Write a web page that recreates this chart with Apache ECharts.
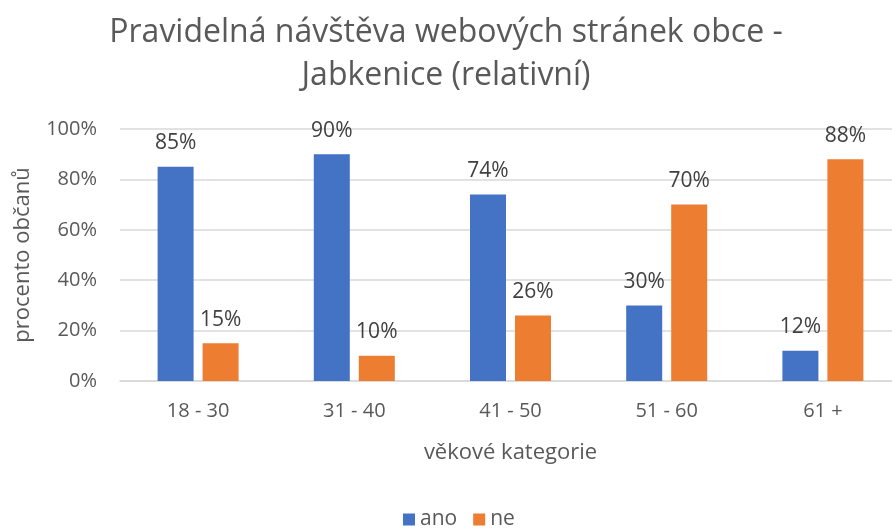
<!DOCTYPE html>
<html>
<head>
<meta charset="utf-8">
<script src="https://cdn.jsdelivr.net/npm/echarts@6/dist/echarts.min.js"></script>
<style>
  html, body { margin: 0; padding: 0; background: #fff; }
  #chart { width: 892px; height: 530px; }
</style>
</head>
<body>
<div id="chart"></div>
<script>
// data
const categories = ['18 - 30', '31 - 40', '41 - 50', '51 - 60', '61 +'];
const ano = [85, 90, 74, 30, 12];
const ne = [15, 10, 26, 70, 88];
const yTicks = [0, 20, 40, 60, 80, 100];

const font = '"Open Sans", "Noto Sans", sans-serif';
const gray = '#595959';

function initChart(dom){
    let chartDom = document.getElementById(dom);
    let chartInstance = echarts.getInstanceByDom(chartDom);
    if(chartInstance){
        return chartInstance;
    }
    return echarts.init(chartDom, null, { renderer: 'canvas' });
}

function barSeries(name, data, color){
    return {
        name: name,
        type: 'bar',
        data: data,
        barWidth: 36,
        barGap: '25%',
        itemStyle: { color: color },
        label: {
            show: true,
            position: 'top',
            distance: 13,
            formatter: '{c}%',
            fontFamily: font,
            fontSize: 21,
            color: '#404040'
        }
    };
}

let chart = initChart('chart');
chart.setOption({
    animation: false,
    backgroundColor: '#fff',
    title: {
        text: 'Pravidelná návštěva webových stránek obce -\nJabkenice (relativní)',
        left: 'center',
        top: 6,
        textStyle: {
            fontFamily: font,
            fontSize: 32,
            fontWeight: 'normal',
            color: gray,
            lineHeight: 43
        }
    },
    legend: {
        bottom: -5,
        left: 398,
        itemWidth: 12,
        itemHeight: 12,
        itemGap: 16,
        icon: 'rect',
        textStyle: { fontFamily: font, fontSize: 21, color: gray },
        data: ['ano', 'ne']
    },
    grid: {
        left: 120,
        top: 129,
        width: 781,
        height: 252,
        outerBoundsMode: 'none'
    },
    xAxis: {
        type: 'category',
        data: categories,
        name: 'věkové kategorie',
        nameLocation: 'middle',
        nameGap: 61,
        nameTextStyle: { fontFamily: font, fontSize: 22, color: gray },
        axisTick: { show: false },
        axisLine: { lineStyle: { color: '#d9d9d9', width: 1.5 } },
        axisLabel: { fontFamily: font, fontSize: 20, color: gray, margin: 20 }
    },
    yAxis: {
        type: 'value',
        min: yTicks[0],
        max: yTicks[yTicks.length - 1],
        interval: yTicks[1] - yTicks[0],
        name: 'procento občanů',
        nameLocation: 'middle',
        nameGap: 86,
        nameTextStyle: { fontFamily: font, fontSize: 22, color: gray },
        axisLine: { show: false },
        axisTick: { show: false },
        axisLabel: { fontFamily: font, fontSize: 20, color: gray, margin: 23, formatter: '{value}%' },
        splitLine: { lineStyle: { color: '#d9d9d9', width: 1.5 } }
    },
    series: [
        barSeries('ano', ano, '#4472C4'),
        barSeries('ne', ne, '#ED7D31')
    ]
});
</script>
</body>
</html>
